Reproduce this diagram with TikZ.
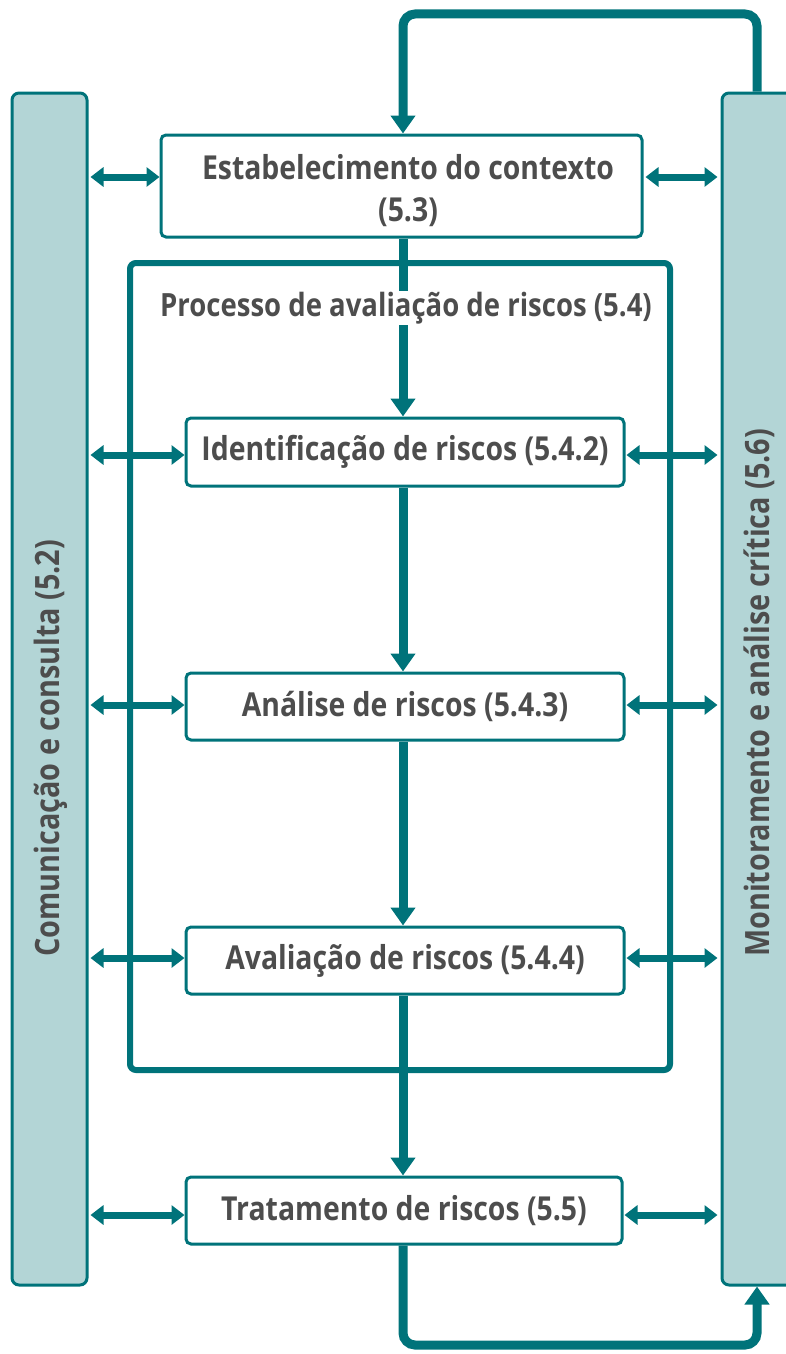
\documentclass[tikz,border=0pt]{standalone}
\usepackage{fontspec}
\setmainfont{Open Sans}[FakeStretch=0.86]
\usetikzlibrary{arrows.meta}
\definecolor{tealA}{HTML}{00737A}
\definecolor{tealL}{HTML}{B3D5D6}
\definecolor{txtG}{HTML}{4D4D4D}
\begin{document}
\begin{tikzpicture}[x=1pt,y=-1pt,
 box/.style={draw=tealA,line width=3pt,rounded corners=5pt,fill=white,text=txtG,
   font=\fontsize{33}{42}\selectfont\bfseries,align=center,inner sep=0pt},
 bar/.style={draw=tealA,line width=3pt,rounded corners=7pt,fill=tealL,
   minimum width=75pt,minimum height=1192pt,inner sep=0pt},
 bartext/.style={text=txtG,font=\fontsize{33.5}{40}\selectfont\bfseries,rotate=90,anchor=west,inner sep=0pt},
 flow/.style={draw=tealA,line width=9pt,-{Triangle[width=24pt,length=18pt]}},
 loop/.style={draw=tealA,line width=9pt,rounded corners=12pt,-{Triangle[width=24pt,length=18pt]}},
 harrow/.style={draw=tealA,line width=7pt,{Triangle[width=19pt,length=13pt]}-{Triangle[width=19pt,length=13pt]}},
 frame/.style={draw=tealA,line width=6pt,rounded corners=6pt}
]
\useasboundingbox (0,0) rectangle (786,1354);
\clip (0,0) rectangle (786,1354);

% side bars
\node[bar] (lbar) at (49.5,689) {};
\node[bar] (rbar) at (759.5,689) {};
\node[bartext] (ltext) at (51,957) {Comunicação e consulta (5.2)};
\node[bartext] (rtext) at (759,957) {Monitoramento e análise crítica (5.6)};

% inner frame
\draw[frame] (130,263) rectangle (670,1070);

% boxes
\node[box,minimum width=481pt,minimum height=102pt] (ctx) at (401.5,186) {};
\node[text=txtG,font=\fontsize{33}{42}\selectfont\bfseries,align=center,inner sep=0pt] (ctxt) at (408,191) {Estabelecimento do contexto\\(5.3)};
\node[box,minimum width=438pt,minimum height=68pt] (id) at (405,452) {Identificação de riscos (5.4.2)};
\node[box,minimum width=438pt,minimum height=67pt] (an) at (405,706.5) {Análise de riscos (5.4.3)};
\node[box,minimum width=438pt,minimum height=67pt] (av) at (405,960.5) {Avaliação de riscos (5.4.4)};
\node[box,minimum width=436pt,minimum height=67pt] (tr) at (404,1210.5) {Tratamento de riscos (5.5)};

% columns / rows
\coordinate (cx) at (403,0);
\coordinate (rx) at (757,0);
\coordinate (ty) at (0,14);
\coordinate (by) at (0,1345);

% vertical flow
\draw[flow] (ctx.south -| cx) -- (id.north -| cx);
\draw[flow] (id.south -| cx) -- (an.north -| cx);
\draw[flow] (an.south -| cx) -- (av.north -| cx);
\draw[flow] (av.south -| cx) -- (tr.north -| cx);

% frame label
\node[text=txtG,font=\fontsize{32}{40}\selectfont\bfseries,fill=white,inner sep=1pt] (plabel) at (406,308) {Processo de avaliação de riscos (5.4)};

% loops
\draw[loop] (rbar.north -| rx) -- (rx |- ty) -- (cx |- ty) -- (ctx.north -| cx);
\draw[loop] (tr.south -| cx) -- (cx |- by) -- (rx |- by) -- (rbar.south -| rx);

% horizontal double arrows
\coordinate (y1) at (0,177);
\coordinate (y2) at (0,455);
\coordinate (y3) at (0,705);
\coordinate (y4) at (0,958);
\coordinate (y5) at (0,1215);
\draw[harrow] (lbar.east |- y1) ++(2,0) -- (ctx.west |- y1);
\draw[harrow] (ctx.east |- y1) ++(2,0) -- ([xshift=-3pt]rbar.west |- y1);
\foreach \n/\y in {id/y2,an/y3,av/y4,tr/y5}{
  \draw[harrow] ([xshift=2pt]lbar.east |- \y) -- (\n.west |- \y);
  \draw[harrow] ([xshift=1pt]\n.east |- \y) -- ([xshift=-3pt]rbar.west |- \y);
}
\end{tikzpicture}
\end{document}
